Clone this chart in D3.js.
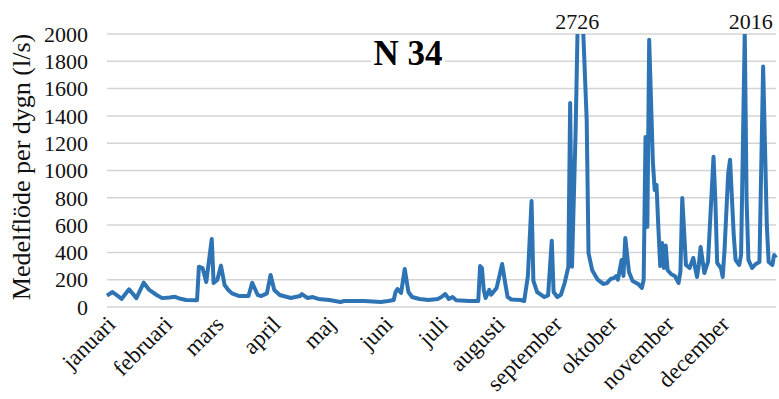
<!DOCTYPE html>
<html>
<head>
<meta charset="utf-8">
<script src="https://cdn.jsdelivr.net/npm/d3@7"></script>
<style>
  body { margin: 0; background: #fff; }
  svg { font-family: "Liberation Serif", "Times New Roman", serif; }
</style>
</head>
<body>
<svg id="chart" width="779" height="399"></svg>
<script>
// day of year (0 = 1 januari) and mean flow per day (l/s)
var flowDays = [0, 3, 8, 12, 16, 20, 23, 27, 30, 34, 37, 40, 43, 49, 50, 52, 54, 57, 58, 60,
  62, 64, 66, 68, 72, 77, 79, 82, 84, 87, 89, 91, 94, 100, 105, 106, 109, 112, 115, 121,
  127, 129, 135, 140, 149, 153, 156, 157, 158, 160, 162, 164, 166, 170, 175, 180, 182, 184, 186, 188,
  190, 197, 202, 203, 204, 205, 206, 208, 209, 212, 215, 217, 218, 220, 225, 227, 229, 231, 232, 234,
  238, 240, 242, 243, 245, 247, 249, 251, 252, 253, 255, 257, 258, 261, 262, 264, 267, 270, 272, 274,
  276, 277, 278, 280, 281, 282, 284, 286, 289, 291, 292, 293, 294, 295, 297, 298, 299, 300, 301, 302,
  303, 304, 305, 307, 309, 311, 312, 313, 315, 317, 319, 321, 322, 323, 325, 327, 330, 331, 332, 334,
  335, 336, 338, 339, 341, 342, 344, 345, 347, 348, 349, 351, 353, 355, 357, 359, 360, 362, 363, 364]
var flowValues = [83, 110, 60, 130, 65, 178, 125, 88, 65, 70, 75, 60, 51, 50, 295, 285, 183, 498, 176, 198,
  303, 161, 125, 100, 80, 80, 178, 88, 80, 100, 235, 125, 88, 66, 80, 95, 66, 73, 59, 51,
  37, 44, 44, 44, 37, 44, 51, 110, 132, 103, 278, 110, 73, 59, 51, 59, 73, 95, 59, 73,
  50, 44, 44, 300, 285, 125, 66, 125, 90, 140, 315, 147, 73, 55, 51, 44, 227, 777, 191, 110,
  73, 85, 486, 110, 73, 90, 176, 293, 1495, 295, 1300, 2726, 2400, 1370, 395, 270, 200, 169, 175, 205,
  213, 227, 200, 345, 227, 506, 257, 191, 169, 139, 200, 1246, 587, 1957, 1063, 858, 894, 580, 300, 469,
  286, 450, 271, 240, 227, 176, 260, 799, 308, 286, 359, 220, 308, 440, 249, 330, 1100, 784, 322, 286,
  220, 418, 982, 1078, 528, 345, 308, 381, 2016, 784, 345, 286, 315, 330, 1762, 601, 330, 308, 380, 360]

var months = ['januari', 'februari', 'mars', 'april', 'maj', 'juni', 'juli',
  'augusti', 'september', 'oktober', 'november', 'december']
var monthStarts = [0, 31, 59, 90, 120, 151, 181, 212, 243, 273, 304, 334]
var yTicks = [0, 200, 400, 600, 800, 1000, 1200, 1400, 1600, 1800, 2000]

// peaks above the axis max get their value written on top
var peakDays = [257, 347]
var peakLabels = ['2726', '2016']

var svg = d3.select('#chart')

var x = d3.scaleLinear().domain([0, 364]).range([107, 776])
var y = d3.scaleLinear().domain([0, 2000]).range([307, 34])

// gridlines
svg.append('g')
  .selectAll('line')
  .data(yTicks)
  .enter().append('line')
  .attr('x1', 107)
  .attr('x2', 776)
  .attr('y1', function(d) { return y(d) })
  .attr('y2', function(d) { return y(d) })
  .attr('stroke', '#d4d4d4')
  .attr('stroke-width', 1.5)

// y tick labels
svg.append('g')
  .selectAll('text')
  .data(yTicks)
  .enter().append('text')
  .attr('x', 88)
  .attr('y', function(d) { return y(d) })
  .attr('dy', '0.35em')
  .attr('text-anchor', 'end')
  .style('font-size', '22px')
  .attr('fill', '#111')
  .text(function(d) { return d })

// month labels
svg.append('g')
  .selectAll('text')
  .data(months)
  .enter().append('text')
  .attr('transform', function(d, i) {
    return 'translate(' + (x(monthStarts[i]) + 4) + ',320) rotate(-45)'
  })
  .attr('text-anchor', 'end')
  .attr('dy', '0.35em')
  .style('font-size', '23px')
  .attr('fill', '#111')
  .text(function(d) { return d })

// y axis title
svg.append('text')
  .attr('transform', 'translate(30,167) rotate(-90)')
  .attr('text-anchor', 'middle')
  .style('font-size', '26px')
  .attr('fill', '#111')
  .text('Medelflöde per dygn (l/s)')

// chart title on white box
svg.append('rect')
  .attr('x', 371).attr('y', 40).attr('width', 74).attr('height', 30)
  .attr('fill', '#fff')
svg.append('text')
  .attr('x', 408)
  .attr('y', 65)
  .attr('text-anchor', 'middle')
  .style('font-size', '35px')
  .style('font-weight', 'bold')
  .attr('fill', '#000')
  .text('N 34')

// clip the line at 2000
svg.append('clipPath').attr('id', 'plot-clip')
  .append('rect')
  .attr('x', 100).attr('y', y(2000)).attr('width', 679).attr('height', 300)

var line = d3.line()
  .x(function(d, i) { return x(flowDays[i]) })
  .y(function(d) { return y(d) })

svg.append('path')
  .datum(flowValues)
  .attr('clip-path', 'url(#plot-clip)')
  .attr('d', line)
  .attr('fill', 'none')
  .attr('stroke', '#2e74b5')
  .attr('stroke-width', 4)
  .attr('stroke-linejoin', 'round')

// peak labels
svg.append('g')
  .selectAll('text')
  .data(peakLabels)
  .enter().append('text')
  .attr('x', function(d, i) { return x(peakDays[i]) + (i == 1 ? 6 : -2) })
  .attr('y', 29)
  .attr('text-anchor', 'middle')
  .style('font-size', '22px')
  .attr('fill', '#111')
  .text(function(d) { return d })
</script>
</body>
</html>
